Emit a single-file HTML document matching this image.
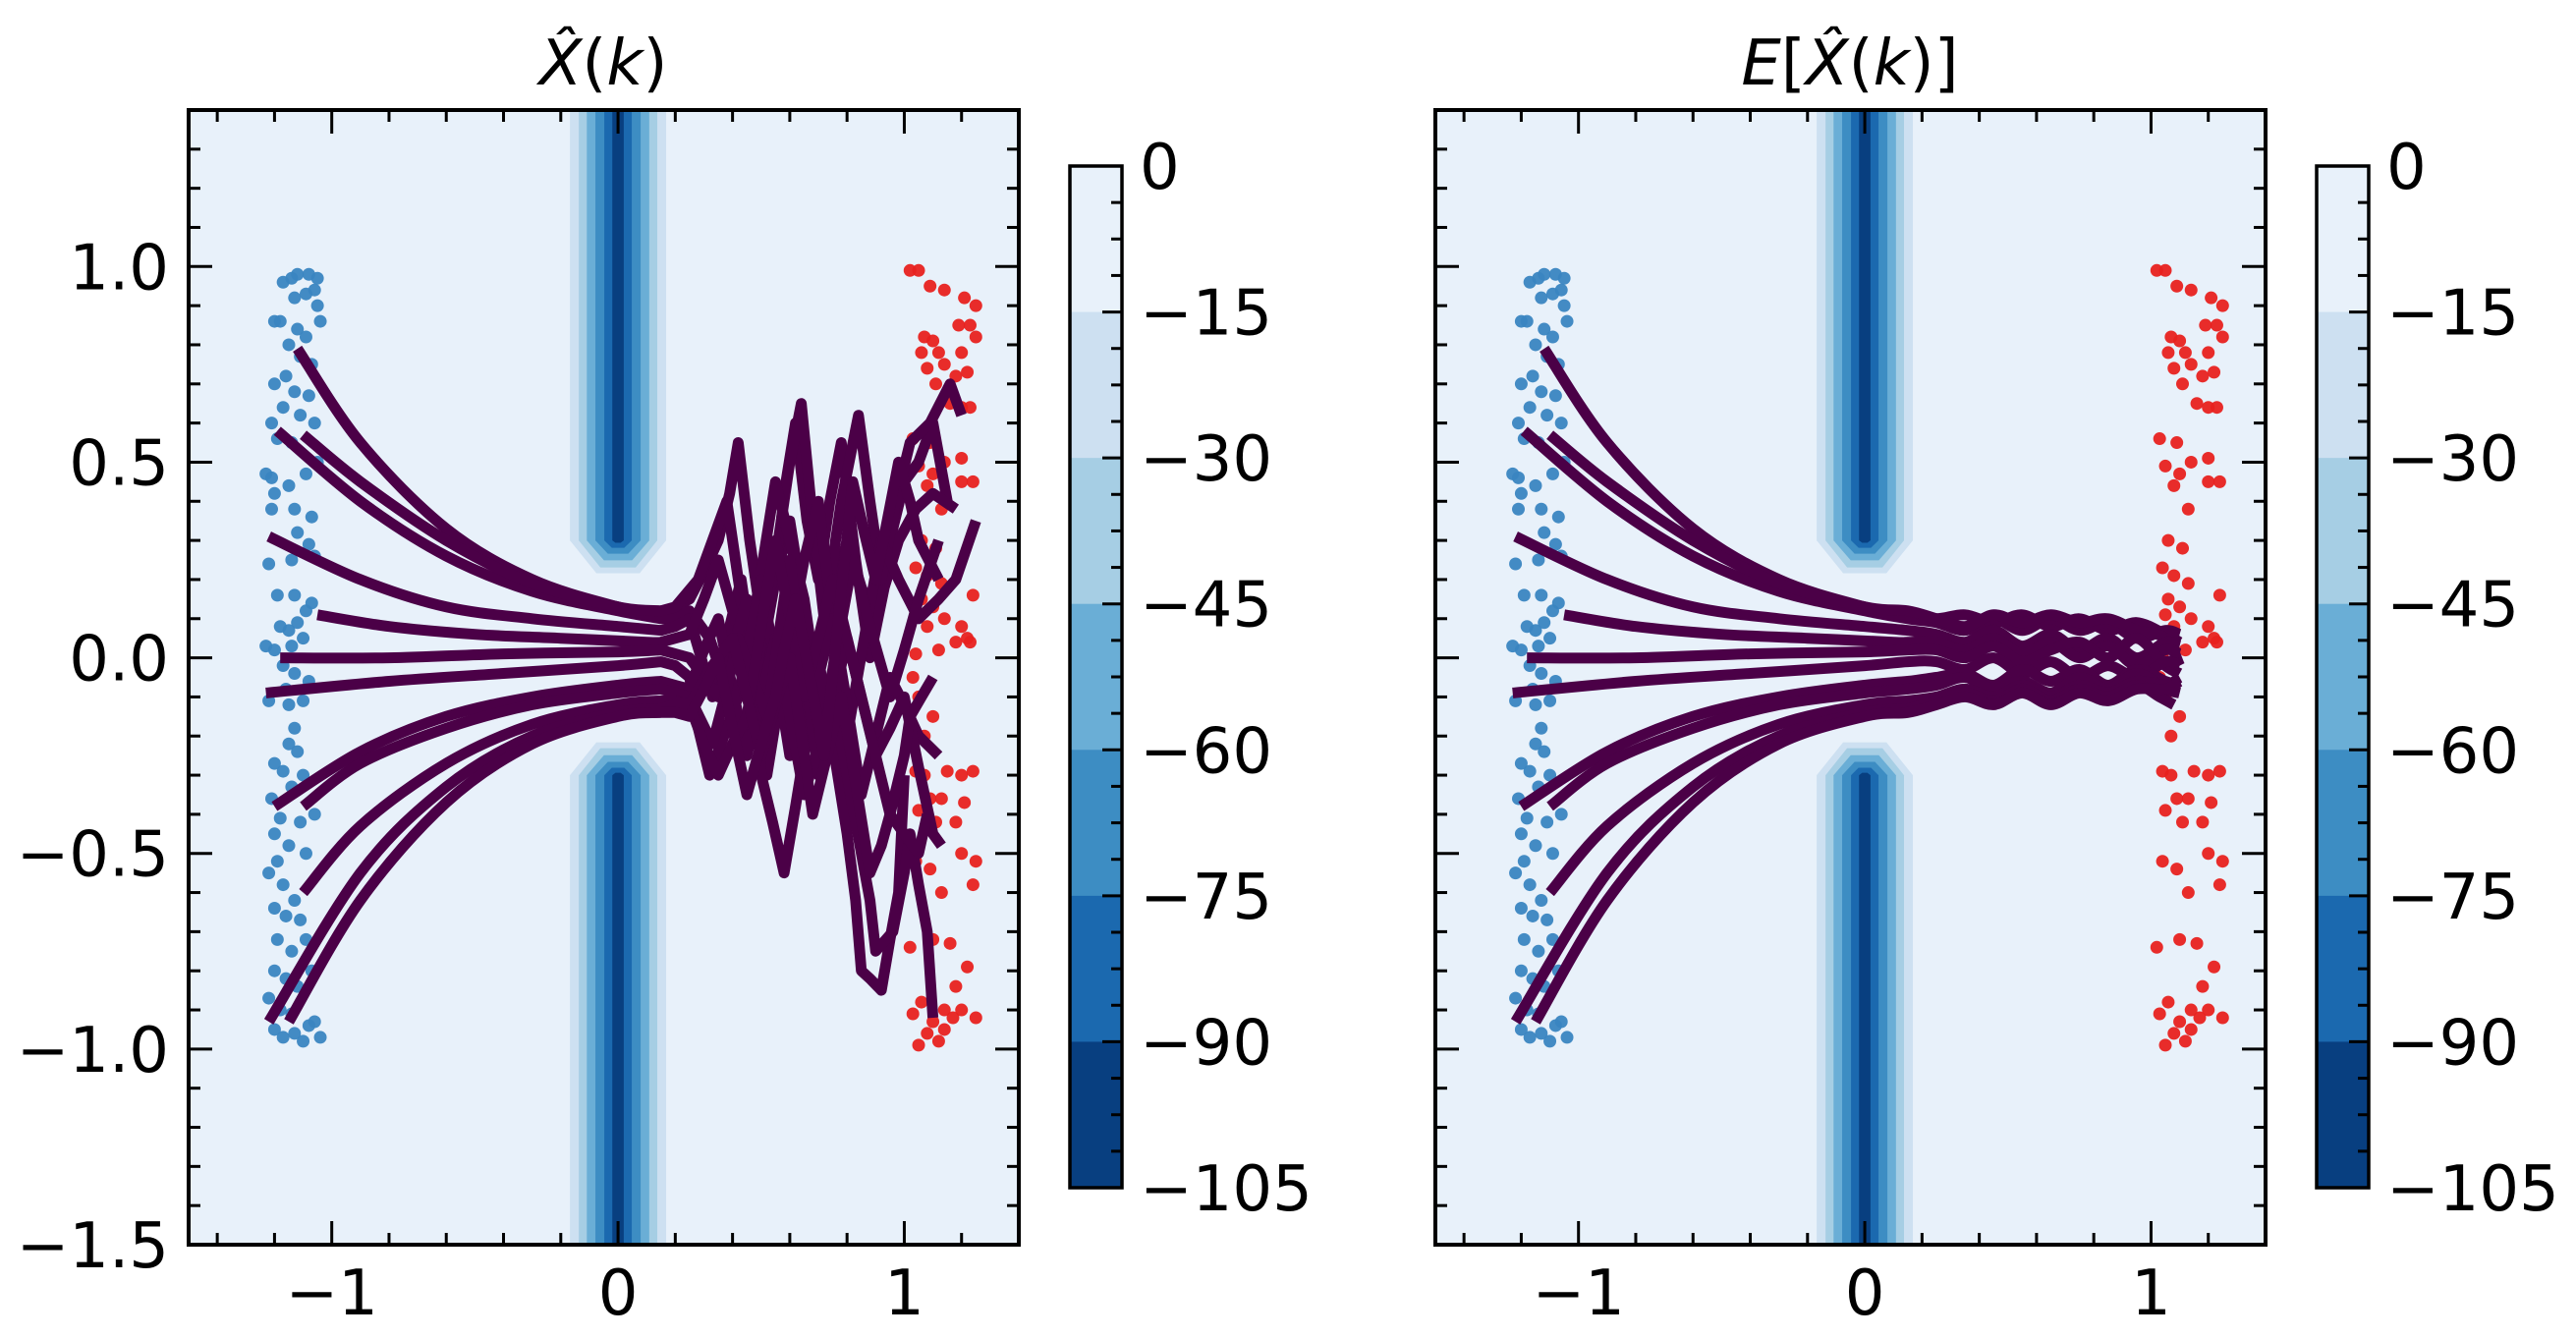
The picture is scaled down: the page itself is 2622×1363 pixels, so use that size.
<!DOCTYPE html>
<html><head><meta charset="utf-8">
<style>
html,body{margin:0;padding:0;background:#fff;overflow:hidden;width:2622px;height:1363px;}
svg{display:block;}
text{font-family:"DejaVu Sans","Liberation Sans",sans-serif;fill:#000;}
</style></head>
<body>
<svg id="fig" width="2622" height="1363" viewBox="0 0 2622 1363" xmlns="http://www.w3.org/2000/svg"></svg>
<script>
// ---- data ----
const xTicks=[-1,0,1];
const xTickLabels=["\u22121","0","1"];
const yTicks=[-1.5,-1.0,-0.5,0.0,0.5,1.0];
const yTickLabels=["\u22121.5","\u22121.0","\u22120.5","0.0","0.5","1.0"];
const cbLevels=[0,-15,-30,-45,-60,-75,-90,-105];
const cbLabels=["0","\u221215","\u221230","\u221245","\u221260","\u221275","\u221290","\u2212105"];
const cbColors=["#e8f1fa","#cde0f1","#a6cee4","#6aaed6","#3d8dc3","#1b69af","#083f80"];
const bandHalfWidth=[0.168,0.137,0.109,0.079,0.048,0.02];
const bandTip=[0.216,0.231,0.249,0.266,0.281,0.294];
const bluePts=[[-1.17,0.96],[-1.14,0.97],[-1.12,0.98],[-1.08,0.98],[-1.05,0.97],[-1.06,0.94],[-1.09,0.93],[-1.13,0.92],[-1.2,0.86],[-1.18,0.86],[-1.04,0.86],[-1.12,0.84],[-1.09,0.82],[-1.15,0.80],[-1.11,0.77],[-1.07,0.75],[-1.2,0.70],[-1.16,0.72],[-1.13,0.68],[-1.08,0.67],[-1.17,0.64],[-1.11,0.62],[-1.06,0.60],[-1.19,0.56],[-1.14,0.55],[-1.23,0.47],[-1.21,0.46],[-1.2,0.42],[-1.15,0.44],[-1.09,0.47],[-1.21,0.38],[-1.13,0.38],[-1.07,0.36],[-1.12,0.32],[-1.08,0.29],[-1.22,0.24],[-1.14,0.25],[-1.06,0.26],[-1.19,0.16],[-1.13,0.16],[-1.09,0.12],[-1.12,0.09],[-1.15,0.07],[-1.1,0.05],[-1.14,0.03],[-1.23,0.03],[-1.2,0.02],[-1.17,-0.02],[-1.13,-0.04],[-1.08,-0.06],[-1.22,-0.11],[-1.16,-0.08],[-1.1,-0.11],[-1.13,-0.18],[-1.15,-0.22],[-1.12,-0.24],[-1.2,-0.27],[-1.17,-0.29],[-1.1,-0.3],[-1.14,-0.33],[-1.21,-0.36],[-1.18,-0.41],[-1.11,-0.42],[-1.2,-0.45],[-1.15,-0.48],[-1.09,-0.5],[-1.22,-0.55],[-1.17,-0.58],[-1.13,-0.62],[-1.2,-0.64],[-1.16,-0.66],[-1.11,-0.67],[-1.19,-0.72],[-1.14,-0.75],[-1.09,-0.72],[-1.2,-0.8],[-1.16,-0.82],[-1.12,-0.84],[-1.22,-0.87],[-1.18,-0.9],[-1.14,-0.91],[-1.06,-0.93],[-1.2,-0.95],[-1.17,-0.97],[-1.13,-0.96],[-1.1,-0.98],[-1.04,-0.97],[-1.08,-0.94],[-1.05,0.9],[-1.18,0.08],[-1.07,0.14],[-1.15,-0.12],[-1.06,-0.4],[-1.19,-0.52],[-1.07,-0.8],[-1.21,0.6],[-1.05,0.5]];
const redPts=[[1.02,0.99],[1.05,0.99],[1.09,0.95],[1.14,0.94],[1.21,0.92],[1.25,0.90],[1.19,0.85],[1.23,0.85],[1.07,0.82],[1.1,0.81],[1.06,0.78],[1.12,0.78],[1.2,0.78],[1.25,0.82],[1.08,0.74],[1.14,0.75],[1.22,0.73],[1.18,0.72],[1.11,0.70],[1.16,0.65],[1.2,0.64],[1.23,0.64],[1.03,0.56],[1.09,0.55],[1.14,0.50],[1.2,0.51],[1.05,0.49],[1.1,0.47],[1.08,0.44],[1.2,0.45],[1.24,0.45],[1.13,0.38],[1.06,0.3],[1.11,0.28],[1.04,0.23],[1.08,0.21],[1.13,0.19],[1.06,0.15],[1.1,0.13],[1.24,0.16],[1.05,0.11],[1.14,0.1],[1.08,0.08],[1.2,0.08],[1.22,0.05],[1.04,0.01],[1.12,0.02],[1.18,0.04],[1.23,0.04],[1.03,-0.05],[1.05,-0.1],[1.1,-0.15],[1.07,-0.2],[1.04,-0.29],[1.07,-0.3],[1.15,-0.29],[1.2,-0.3],[1.24,-0.29],[1.09,-0.36],[1.13,-0.36],[1.21,-0.37],[1.05,-0.39],[1.11,-0.42],[1.18,-0.42],[1.04,-0.52],[1.09,-0.54],[1.2,-0.5],[1.25,-0.52],[1.24,-0.58],[1.13,-0.6],[1.02,-0.74],[1.1,-0.72],[1.16,-0.73],[1.22,-0.79],[1.18,-0.84],[1.06,-0.88],[1.14,-0.9],[1.2,-0.9],[1.03,-0.91],[1.1,-0.93],[1.17,-0.92],[1.25,-0.92],[1.08,-0.96],[1.12,-0.98],[1.05,-0.99],[1.14,-0.95]];
const smoothParts=[
[[-1.12,0.79],[-0.9,0.55],[-0.6,0.33],[-0.3,0.2],[0,0.13],[0.15,0.11]],
[[-1.19,0.58],[-0.9,0.4],[-0.6,0.26],[-0.3,0.17],[0,0.12],[0.15,0.1]],
[[-1.1,0.57],[-0.9,0.45],[-0.6,0.3],[-0.3,0.19],[0,0.13],[0.15,0.12]],
[[-1.22,0.31],[-0.9,0.2],[-0.6,0.13],[-0.3,0.1],[0,0.08],[0.15,0.07]],
[[-1.05,0.11],[-0.8,0.08],[-0.5,0.06],[-0.2,0.05],[0.1,0.04],[0.15,0.04]],
[[-1.18,0.0],[-0.8,0.0],[-0.4,0.01],[0,0.015],[0.15,0.02]],
[[-1.23,-0.09],[-0.8,-0.06],[-0.4,-0.04],[0,-0.02],[0.15,-0.01]],
[[-1.2,-0.38],[-0.9,-0.24],[-0.6,-0.15],[-0.3,-0.1],[0,-0.07],[0.15,-0.06]],
[[-1.1,-0.38],[-0.9,-0.27],[-0.6,-0.18],[-0.3,-0.12],[0,-0.09],[0.15,-0.08]],
[[-1.1,-0.6],[-0.9,-0.43],[-0.6,-0.27],[-0.3,-0.17],[0,-0.12],[0.15,-0.11]],
[[-1.22,-0.93],[-0.9,-0.55],[-0.6,-0.33],[-0.3,-0.2],[0,-0.14],[0.15,-0.13]],
[[-1.15,-0.93],[-0.9,-0.62],[-0.6,-0.37],[-0.3,-0.22],[0,-0.15],[0.15,-0.14]]];
const chaosLeft=[
[[0.2,0.13],[0.25,0.15],[0.3,0.22],[0.35,0.3],[0.39,0.42],[0.42,0.55],[0.46,0.3],[0.5,0.1],[0.55,0.2],[0.6,0.35],[0.65,0.12],[0.7,-0.05],[0.75,0.15],[0.8,0.3],[0.85,0.18],[0.9,0.1],[0.95,0.3],[1.0,0.45],[1.05,0.5],[1.1,0.6],[1.15,0.4]],
[[0.2,0.1],[0.25,0.12],[0.32,0.05],[0.38,-0.08],[0.45,-0.2],[0.5,0.0],[0.55,0.2],[0.58,0.42],[0.62,0.6],[0.66,0.35],[0.7,0.2],[0.74,0.4],[0.78,0.55],[0.83,0.25],[0.88,0.0],[0.93,0.18],[0.98,0.3],[1.04,0.38],[1.1,0.42],[1.18,0.38]],
[[0.2,0.13],[0.28,0.2],[0.33,0.3],[0.38,0.4],[0.43,0.15],[0.48,-0.05],[0.52,0.12],[0.56,0.3],[0.6,0.5],[0.64,0.65],[0.68,0.35],[0.72,0.1],[0.78,0.4],[0.84,0.62],[0.88,0.4],[0.92,0.2],[0.97,0.4],[1.02,0.55],[1.09,0.6],[1.16,0.7],[1.2,0.62]],
[[0.2,0.08],[0.25,0.1],[0.29,0.0],[0.33,-0.1],[0.38,0.05],[0.43,0.2],[0.48,-0.05],[0.52,-0.3],[0.56,-0.12],[0.6,0.05],[0.65,0.25],[0.7,0.4],[0.75,0.1],[0.8,-0.2],[0.86,0.05],[0.92,0.3],[0.98,0.2],[1.05,0.1],[1.12,0.15],[1.18,0.2],[1.25,0.35]],
[[0.2,0.05],[0.25,0.06],[0.3,0.15],[0.35,0.25],[0.4,0.12],[0.45,0.0],[0.5,0.22],[0.55,0.45],[0.6,0.3],[0.65,0.15],[0.68,0.0],[0.72,-0.15],[0.77,0.05],[0.82,0.25],[0.88,0.08],[0.95,-0.1],[1.0,0.02],[1.05,0.15],[1.12,0.3]],
[[0.2,0.01],[0.25,0.0],[0.3,-0.05],[0.35,-0.1],[0.4,0.02],[0.45,0.15],[0.5,-0.3],[0.54,-0.42],[0.58,-0.55],[0.62,-0.38],[0.66,-0.2],[0.7,-0.05],[0.75,0.1],[0.8,-0.12],[0.85,-0.35],[0.9,-0.2],[0.95,-0.05],[1.0,-0.12],[1.05,-0.2],[1.12,-0.25]],
[[0.2,-0.02],[0.25,-0.05],[0.28,-0.18],[0.32,-0.3],[0.37,-0.2],[0.42,-0.1],[0.46,0.05],[0.5,0.2],[0.55,-0.02],[0.6,-0.25],[0.65,-0.12],[0.7,0.0],[0.75,-0.22],[0.8,-0.45],[0.83,-0.62],[0.85,-0.8],[0.88,-0.82],[0.92,-0.85],[0.95,-0.72],[0.98,-0.6],[1.0,-0.3]],
[[0.2,-0.07],[0.25,-0.08],[0.3,0.02],[0.35,0.1],[0.4,-0.08],[0.45,-0.25],[0.5,-0.1],[0.55,0.05],[0.6,-0.15],[0.65,-0.35],[0.7,-0.22],[0.75,-0.1],[0.8,-0.3],[0.85,-0.5],[0.88,-0.62],[0.9,-0.75],[0.96,-0.7],[1.0,-0.55],[1.02,-0.45],[1.05,-0.58],[1.08,-0.7],[1.1,-0.92]],
[[0.2,-0.09],[0.25,-0.1],[0.33,-0.22],[0.38,-0.08],[0.42,0.05],[0.47,-0.05],[0.52,-0.15],[0.56,0.05],[0.6,0.25],[0.65,-0.02],[0.7,-0.3],[0.75,-0.12],[0.8,0.05],[0.85,-0.1],[0.9,-0.25],[0.95,-0.18],[1.0,-0.1],[1.05,-0.28],[1.1,-0.45],[1.13,-0.48]],
[[0.2,-0.11],[0.25,-0.12],[0.3,-0.22],[0.35,-0.3],[0.4,-0.22],[0.45,-0.15],[0.5,0.08],[0.55,0.3],[0.6,0.1],[0.65,-0.1],[0.7,0.05],[0.75,0.2],[0.8,0.05],[0.85,-0.1],[0.9,-0.25],[0.95,-0.4],[1.0,-0.45],[1.05,-0.5],[1.08,-0.4]],
[[0.2,-0.12],[0.25,-0.12],[0.32,-0.03],[0.4,0.05],[0.45,-0.1],[0.5,-0.25],[0.55,-0.12],[0.6,0.0],[0.64,-0.2],[0.68,-0.4],[0.73,-0.25],[0.78,-0.1],[0.83,-0.32],[0.88,-0.55],[0.92,-0.48],[0.95,-0.4],[1.0,-0.25],[1.02,-0.15],[1.06,-0.1],[1.1,-0.05]],
[[0.2,-0.14],[0.25,-0.15],[0.3,-0.08],[0.35,0.0],[0.4,-0.18],[0.45,-0.35],[0.5,-0.22],[0.55,-0.1],[0.58,0.02],[0.62,0.15],[0.67,-0.05],[0.72,-0.25],[0.77,0.1],[0.82,0.45],[0.86,0.32],[0.9,0.2],[0.94,0.35],[0.98,0.5],[1.02,0.4],[1.05,0.3],[1.12,0.2]]];
const chaosRight=[
[[0.25,0.1],[0.35,0.11],[0.45,0.09],[0.55,0.11],[0.65,0.08],[0.75,0.1],[0.85,0.07],[0.95,0.09],[1.05,0.06],[1.1,0.04]],
[[0.25,0.09],[0.35,0.07],[0.45,0.1],[0.55,0.07],[0.65,0.1],[0.75,0.07],[0.85,0.09],[0.95,0.05],[1.05,0.07],[1.1,0.06]],
[[0.25,0.1],[0.35,0.08],[0.45,0.11],[0.55,0.09],[0.65,0.11],[0.75,0.09],[0.85,0.1],[0.95,0.07],[1.05,0.05],[1.1,-0.02]],
[[0.25,0.06],[0.35,0.04],[0.45,0.07],[0.55,0.03],[0.65,0.06],[0.75,0.02],[0.85,0.05],[0.95,0.0],[1.05,0.04],[1.1,0.03]],
[[0.25,0.04],[0.35,0.02],[0.45,0.05],[0.55,0.01],[0.65,0.04],[0.75,0.0],[0.85,0.03],[0.95,-0.02],[1.05,0.02],[1.1,0.01]],
[[0.25,0.02],[0.35,0.0],[0.45,0.03],[0.55,-0.01],[0.65,0.02],[0.75,0.04],[0.85,0.0],[0.95,0.05],[1.05,-0.02],[1.1,-0.04]],
[[0.25,-0.01],[0.35,-0.03],[0.45,0.0],[0.55,-0.04],[0.65,-0.01],[0.75,-0.05],[0.85,-0.02],[0.95,-0.05],[1.05,-0.01],[1.1,-0.02]],
[[0.25,-0.05],[0.35,-0.04],[0.45,-0.07],[0.55,-0.03],[0.65,-0.06],[0.75,-0.03],[0.85,-0.07],[0.95,-0.03],[1.05,-0.06],[1.1,-0.07]],
[[0.25,-0.07],[0.35,-0.05],[0.45,-0.08],[0.55,-0.06],[0.65,-0.09],[0.75,-0.05],[0.85,-0.08],[0.95,-0.04],[1.05,-0.08],[1.1,-0.09]],
[[0.25,-0.1],[0.35,-0.08],[0.45,-0.1],[0.55,-0.07],[0.65,-0.1],[0.75,-0.07],[0.85,-0.09],[0.95,-0.06],[1.05,-0.07],[1.1,-0.05]],
[[0.25,-0.11],[0.35,-0.09],[0.45,-0.11],[0.55,-0.08],[0.65,-0.11],[0.75,-0.08],[0.85,-0.1],[0.95,-0.07],[1.03,-0.1],[1.08,-0.12]],
[[0.25,-0.12],[0.35,-0.1],[0.45,-0.12],[0.55,-0.09],[0.65,-0.12],[0.75,-0.09],[0.85,-0.11],[0.95,-0.08],[1.05,-0.08],[1.1,-0.06]]];

// ---- layout ----
const NS="http://www.w3.org/2000/svg";
const svg=document.getElementById('fig');
const AX={l:192,r:1037,t:112,b:1267}, CB={l:1089,r:1142,t:169,b:1209};
const XMIN=-1.5,XMAX=1.4,YMIN=-1.5,YMAX=1.4;
const FS=64;
function mk(tag,attrs,parent){const e=document.createElementNS(NS,tag);for(const k in attrs)e.setAttribute(k,attrs[k]);(parent||svg).appendChild(e);return e;}
function smoothStr(P){
  let d="M"+P[0][0].toFixed(1)+","+P[0][1].toFixed(1);
  for(let i=0;i<P.length-1;i++){
    const p0=P[Math.max(0,i-1)],p1=P[i],p2=P[i+1],p3=P[Math.min(P.length-1,i+2)];
    const c1=[p1[0]+(p2[0]-p0[0])/6,p1[1]+(p2[1]-p0[1])/6],c2=[p2[0]-(p3[0]-p1[0])/6,p2[1]-(p3[1]-p1[1])/6];
    d+=" C"+c1.map(v=>v.toFixed(1))+" "+c2.map(v=>v.toFixed(1))+" "+p2.map(v=>v.toFixed(1));
  }
  return d;
}
function panel(off,titleParts,chaos,idx,smoothChaos){
  const g=mk('g',{});
  
  
  const sx=v=>off+AX.l+(v-XMIN)/(XMAX-XMIN)*(AX.r-AX.l);
  const sy=v=>AX.t+(YMAX-v)/(YMAX-YMIN)*(AX.b-AX.t);
  const clipId='clip'+idx;
  const cp=mk('clipPath',{id:clipId},g);mk('rect',{x:sx(XMIN),y:AX.t,width:AX.r-AX.l,height:AX.b-AX.t},cp);
  const plot=mk('g',{'clip-path':'url(#'+clipId+')'},g);
  const bg=mk('rect',{x:sx(XMIN),y:AX.t,width:AX.r-AX.l,height:AX.b-AX.t,fill:cbColors[0]},plot);
  
  for(let i=0;i<bandHalfWidth.length;i++){
    const w=bandHalfWidth[i],tp=bandTip[i];
    for(const s of [1,-1]){
      const edge=s>0?YMAX:YMIN;
      const pts=[[-w,edge],[-w,s*0.3],[-w*0.45,s*tp],[w*0.45,s*tp],[w,s*0.3],[w,edge]];
      const pg=mk('polygon',{points:pts.map(p=>sx(p[0])+","+sy(p[1])).join(" "),fill:cbColors[i+1]},plot);
      
    }
  }
  for(const p of bluePts){const c=mk('circle',{cx:sx(p[0]),cy:sy(p[1]),r:6.5,fill:'#3a85c1',opacity:0.95},plot);
    }
  for(const p of redPts){const c=mk('circle',{cx:sx(p[0]),cy:sy(p[1]),r:6.5,fill:'#e8211f',opacity:0.95},plot);
    }
  for(let i=0;i<smoothParts.length;i++){
    const S=smoothParts[i].map(p=>[sx(p[0]),sy(p[1])]);
    const C=chaos[i].map(p=>[sx(p[0]),sy(p[1])]);
    let d;
    if(smoothChaos){d=smoothStr(S.concat(C));}
    else{d=smoothStr(S)+C.map(p=>" L"+p[0].toFixed(1)+","+p[1].toFixed(1)).join("");}
    const pa=mk('path',{d:d,fill:'none',stroke:'#4b0047','stroke-width':11,'stroke-linejoin':'round','stroke-linecap':'butt'},plot);
    
  }
  // ticks
  const tk=mk('g',{stroke:'#000','stroke-width':3},g);
  for(let k=-7;k<=7;k++){const v=k/5,x=sx(v),maj=(k%5===0);const L=maj?24:12;
    mk('line',{x1:x,x2:x,y1:AX.b,y2:AX.b-L},tk);mk('line',{x1:x,x2:x,y1:AX.t,y2:AX.t+L},tk);}
  for(let k=-14;k<=14;k++){const v=k/10,y=sy(v),maj=(k%5===0);const L=maj?24:12;
    mk('line',{x1:sx(XMIN),x2:sx(XMIN)+L,y1:y,y2:y},tk);mk('line',{x1:sx(XMAX),x2:sx(XMAX)-L,y1:y,y2:y},tk);}
  const fr=mk('rect',{x:sx(XMIN),y:AX.t,width:AX.r-AX.l,height:AX.b-AX.t,fill:'none',stroke:'#000','stroke-width':4},g);
  
  xTicks.forEach((v,i)=>{const t=mk('text',{x:sx(v),y:1338,'font-size':FS,'text-anchor':'middle'},g);t.textContent=xTickLabels[i];
    });
  if(idx===1){yTicks.forEach((v,i)=>{const t=mk('text',{x:off+172,y:sy(v)+23,'font-size':FS,'text-anchor':'end'},g);t.textContent=yTickLabels[i];
    });}
  const tt=mk('text',{x:off+614,y:86,'font-size':FS,'text-anchor':'middle'},g);
  
  for(const [s,it] of titleParts){const ts=mk('tspan',{'font-style':it?'italic':'normal'},tt);ts.textContent=s;}
  // colorbar
  const cb=mk('g',{},g);
  const cy=v=>CB.t+(cbLevels[0]-v)/(cbLevels[0]-cbLevels[cbLevels.length-1])*(CB.b-CB.t);
  for(let i=0;i<cbColors.length;i++){mk('rect',{x:off+CB.l,y:cy(cbLevels[i]),width:CB.r-CB.l,height:cy(cbLevels[i+1])-cy(cbLevels[i])+0.5,fill:cbColors[i]},cb);}
  const ctk=mk('g',{stroke:'#000','stroke-width':3},cb);
  for(let k=0;k<=28;k++){const v=-k*3.75,y=cy(v),maj=(k%4===0);mk('line',{x1:off+CB.r,x2:off+CB.r-(maj?20:11),y1:y,y2:y},ctk);}
  mk('rect',{x:off+CB.l,y:CB.t,width:CB.r-CB.l,height:CB.b-CB.t,fill:'none',stroke:'#000','stroke-width':3.5},cb);
  cbLevels.forEach((v,i)=>{const t=mk('text',{x:off+1160,y:cy(v)+23,'font-size':FS},cb);t.textContent=cbLabels[i];
    });
}
panel(0,[["X\u0302",true],["(",false],["k",true],[")",false]],chaosLeft,1,false);
panel(1269,[["E",true],["[",false],["X\u0302",true],["(",false],["k",true],[")]",false]],chaosRight,2,true);
</script>
</body></html>
